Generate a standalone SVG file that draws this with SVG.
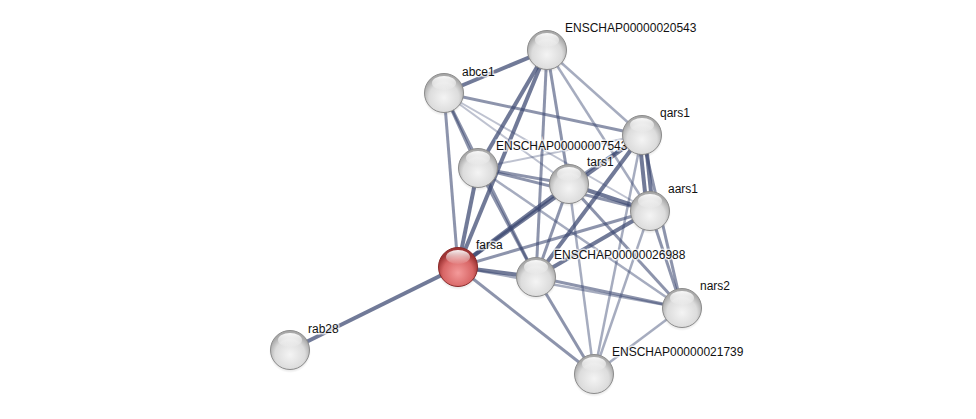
<svg xmlns="http://www.w3.org/2000/svg" width="976" height="419" viewBox="0 0 976 419">
<defs>
<radialGradient id="gw" cx="50%" cy="62%" r="55%">
<stop offset="0" stop-color="#f4f4f4"/>
<stop offset="0.7" stop-color="#dcdcdc"/>
<stop offset="1" stop-color="#a9a9a9"/>
</radialGradient>
<radialGradient id="gr" cx="50%" cy="65%" r="55%">
<stop offset="0" stop-color="#f49a9a"/>
<stop offset="0.7" stop-color="#d86666"/>
<stop offset="1" stop-color="#9e3434"/>
</radialGradient>
<linearGradient id="hl" x1="0" y1="0" x2="0" y2="1">
<stop offset="0" stop-color="#fff" stop-opacity="0.95"/>
<stop offset="1" stop-color="#fff" stop-opacity="0.05"/>
</linearGradient>
<radialGradient id="sh" cx="50%" cy="50%" r="50%">
<stop offset="0.6" stop-color="#000" stop-opacity="0.25"/>
<stop offset="1" stop-color="#000" stop-opacity="0"/>
</radialGradient>
<g id="ball">
<circle cx="0" cy="2" r="21" fill="url(#sh)"/>
<circle cx="0" cy="0" r="19.5" fill="url(#gw)" stroke="#8c8c8c" stroke-width="1"/>
<ellipse cx="0" cy="-10" rx="12" ry="7" fill="url(#hl)"/>
</g>
<g id="rball">
<circle cx="0" cy="2" r="21" fill="url(#sh)"/>
<circle cx="0" cy="0" r="19.5" fill="url(#gr)" stroke="#8a2a2a" stroke-width="1"/>
<ellipse cx="0" cy="-10" rx="12" ry="7" fill="url(#hl)"/>
</g>
</defs>
<style>
.e{stroke:#3a4670;fill:none;stroke-linecap:butt}
.e1{stroke-width:4;stroke-opacity:.72}
.e2{stroke-width:3;stroke-opacity:.58}
.e3{stroke-width:2.5;stroke-opacity:.45}
.e4{stroke-width:2;stroke-opacity:.33}
.lbl{font-family:"Liberation Sans",Arial,sans-serif;font-size:12px;fill:#111;stroke:#fff;stroke-width:3;stroke-opacity:.7;paint-order:stroke}
</style>
<rect width="976" height="419" fill="#fff"/>
<g id="edges">
<line class="e e1" x1="290" y1="350" x2="458" y2="267"/>
<line class="e e1" x1="547" y1="50" x2="444" y2="93"/>
<line class="e e3" x1="547" y1="50" x2="642" y2="135"/>
<line class="e e1" x1="547" y1="50" x2="478" y2="168"/>
<line class="e e1" x1="547" y1="50" x2="458" y2="267"/>
<line class="e e2" x1="547" y1="50" x2="536" y2="277"/>
<line class="e e2" x1="547" y1="50" x2="569" y2="184"/>
<line class="e e3" x1="547" y1="50" x2="650" y2="211"/>
<line class="e e2" x1="444" y1="93" x2="642" y2="135"/>
<line class="e e2" x1="444" y1="93" x2="478" y2="168"/>
<line class="e e2" x1="444" y1="93" x2="458" y2="267"/>
<line class="e e4" x1="444" y1="93" x2="569" y2="184"/>
<line class="e e4" x1="444" y1="93" x2="650" y2="211"/>
<line class="e e2" x1="444" y1="93" x2="536" y2="277"/>
<line class="e e4" x1="642" y1="135" x2="478" y2="168"/>
<line class="e e2" x1="642" y1="135" x2="569" y2="184"/>
<line class="e e1" x1="639" y1="135" x2="647" y2="211"/>
<line class="e e1" x1="645" y1="135" x2="653" y2="211"/>
<line class="e e1" x1="642" y1="135" x2="458" y2="267"/>
<line class="e e1" x1="642" y1="135" x2="536" y2="277"/>
<line class="e e2" x1="642" y1="135" x2="682" y2="308"/>
<line class="e e3" x1="642" y1="135" x2="594" y2="374"/>
<line class="e e2" x1="478" y1="168" x2="569" y2="184"/>
<line class="e e2" x1="478" y1="168" x2="650" y2="211"/>
<line class="e e1" x1="478" y1="168" x2="458" y2="267"/>
<line class="e e2" x1="478" y1="168" x2="536" y2="277"/>
<line class="e e3" x1="478" y1="168" x2="682" y2="308"/>
<line class="e e1" x1="569" y1="184" x2="650" y2="211"/>
<line class="e e1" x1="569" y1="184" x2="458" y2="267"/>
<line class="e e2" x1="569" y1="184" x2="536" y2="277"/>
<line class="e e2" x1="569" y1="184" x2="682" y2="308"/>
<line class="e e3" x1="569" y1="184" x2="594" y2="374"/>
<line class="e e2" x1="650" y1="211" x2="458" y2="267"/>
<line class="e e1" x1="650" y1="211" x2="536" y2="277"/>
<line class="e e2" x1="650" y1="211" x2="682" y2="308"/>
<line class="e e3" x1="650" y1="211" x2="594" y2="374"/>
<line class="e e1" x1="458" y1="267" x2="536" y2="277"/>
<line class="e e2" x1="458" y1="267" x2="594" y2="374"/>
<line class="e e3" x1="458" y1="267" x2="682" y2="308"/>
<line class="e e2" x1="536" y1="277" x2="682" y2="308"/>
<line class="e e2" x1="536" y1="277" x2="594" y2="374"/>
<line class="e e3" x1="682" y1="308" x2="594" y2="374"/>
</g>
<g id="labels">
<text class="lbl" x="565" y="32">ENSCHAP00000020543</text>
<text class="lbl" x="462" y="76">abce1</text>
<text class="lbl" x="660" y="117">qars1</text>
<text class="lbl" x="496" y="150">ENSCHAP00000007543</text>
<text class="lbl" x="587" y="166">tars1</text>
<text class="lbl" x="668" y="193">aars1</text>
<text class="lbl" x="476" y="249">farsa</text>
<text class="lbl" x="554" y="259">ENSCHAP00000026988</text>
<text class="lbl" x="700" y="290">nars2</text>
<text class="lbl" x="308" y="333">rab28</text>
<text class="lbl" x="612" y="356">ENSCHAP00000021739</text>
</g>
<g id="node-rab28"><use href="#ball" x="290" y="350"/></g>
<g id="node-farsa"><use href="#rball" x="458" y="267"/></g>
<g id="node-ENSCHAP00000021739"><use href="#ball" x="594" y="374"/></g>
<g id="node-ENSCHAP00000026988"><use href="#ball" x="536" y="277"/></g>
<g id="node-nars2"><use href="#ball" x="682" y="308"/></g>
<g id="node-abce1"><use href="#ball" x="444" y="93"/></g>
<g id="node-ENSCHAP00000020543"><use href="#ball" x="547" y="50"/></g>
<g id="node-ENSCHAP00000007543"><use href="#ball" x="478" y="168"/></g>
<g id="node-tars1"><use href="#ball" x="569" y="184"/></g>
<g id="node-aars1"><use href="#ball" x="650" y="211"/></g>
<g id="node-qars1"><use href="#ball" x="642" y="135"/></g>
</svg>
